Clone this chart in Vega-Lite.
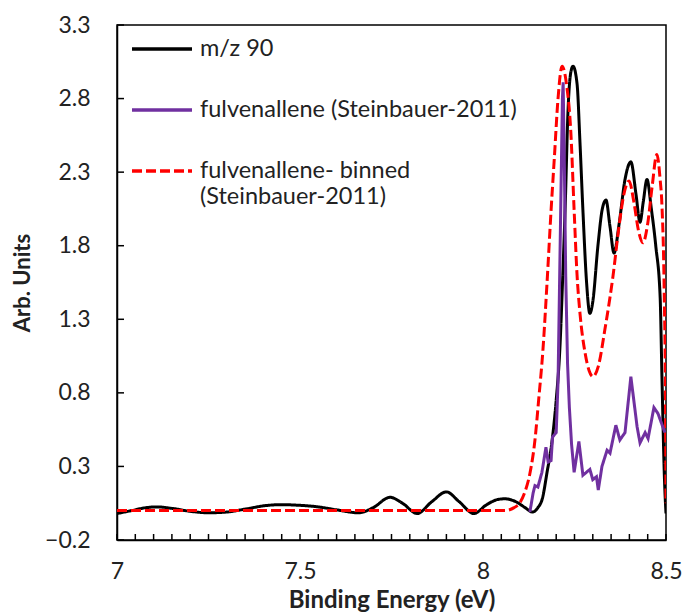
{
  "$schema": "https://vega.github.io/schema/vega-lite/v6.json",
  "width": 549,
  "height": 515,
  "autosize": {"type": "none"},
  "padding": {"left": 117, "top": 25, "right": 17, "bottom": 73},
  "background": "white",
  "config": {
    "font": "Lato",
    "view": {"stroke": "black", "strokeWidth": 1.5},
    "axis": {
      "domainColor": "black", "domainWidth": 1.5,
      "labelColor": "#222", "labelFont": "Lato", "labelFontSize": 23,
      "titleFont": "Lato", "titleFontWeight": "bold", "titleColor": "#222",
      "grid": false
    }
  },
  "datasets": {
    "curves": [
      {"s": "m/z 90", "E": 7.0, "v": -0.02},
      {"s": "m/z 90", "E": 7.04, "v": 0.0},
      {"s": "m/z 90", "E": 7.08, "v": 0.02},
      {"s": "m/z 90", "E": 7.11, "v": 0.025},
      {"s": "m/z 90", "E": 7.15, "v": 0.015},
      {"s": "m/z 90", "E": 7.2, "v": -0.005},
      {"s": "m/z 90", "E": 7.25, "v": -0.015},
      {"s": "m/z 90", "E": 7.3, "v": -0.01},
      {"s": "m/z 90", "E": 7.35, "v": 0.01},
      {"s": "m/z 90", "E": 7.41, "v": 0.035},
      {"s": "m/z 90", "E": 7.45, "v": 0.04},
      {"s": "m/z 90", "E": 7.49, "v": 0.037},
      {"s": "m/z 90", "E": 7.55, "v": 0.025},
      {"s": "m/z 90", "E": 7.6, "v": 0.005},
      {"s": "m/z 90", "E": 7.66, "v": -0.015},
      {"s": "m/z 90", "E": 7.7, "v": 0.02},
      {"s": "m/z 90", "E": 7.746, "v": 0.09},
      {"s": "m/z 90", "E": 7.78, "v": 0.05},
      {"s": "m/z 90", "E": 7.82, "v": -0.02},
      {"s": "m/z 90", "E": 7.86, "v": 0.06},
      {"s": "m/z 90", "E": 7.9, "v": 0.127},
      {"s": "m/z 90", "E": 7.935, "v": 0.06},
      {"s": "m/z 90", "E": 7.975, "v": -0.02},
      {"s": "m/z 90", "E": 8.01, "v": 0.04},
      {"s": "m/z 90", "E": 8.04, "v": 0.075},
      {"s": "m/z 90", "E": 8.06, "v": 0.08},
      {"s": "m/z 90", "E": 8.09, "v": 0.06},
      {"s": "m/z 90", "E": 8.115, "v": 0.02},
      {"s": "m/z 90", "E": 8.135, "v": -0.01},
      {"s": "m/z 90", "E": 8.15, "v": 0.02},
      {"s": "m/z 90", "E": 8.162, "v": 0.08},
      {"s": "m/z 90", "E": 8.175, "v": 0.26},
      {"s": "m/z 90", "E": 8.188, "v": 0.46},
      {"s": "m/z 90", "E": 8.2, "v": 0.75},
      {"s": "m/z 90", "E": 8.21, "v": 1.1},
      {"s": "m/z 90", "E": 8.218, "v": 1.6},
      {"s": "m/z 90", "E": 8.225, "v": 2.1},
      {"s": "m/z 90", "E": 8.232, "v": 2.7},
      {"s": "m/z 90", "E": 8.24, "v": 2.98},
      {"s": "m/z 90", "E": 8.246, "v": 3.02},
      {"s": "m/z 90", "E": 8.257, "v": 2.9},
      {"s": "m/z 90", "E": 8.265, "v": 2.5},
      {"s": "m/z 90", "E": 8.273, "v": 2.04},
      {"s": "m/z 90", "E": 8.283, "v": 1.55},
      {"s": "m/z 90", "E": 8.292, "v": 1.34},
      {"s": "m/z 90", "E": 8.3, "v": 1.42},
      {"s": "m/z 90", "E": 8.314, "v": 1.8},
      {"s": "m/z 90", "E": 8.326, "v": 2.05},
      {"s": "m/z 90", "E": 8.336, "v": 2.11},
      {"s": "m/z 90", "E": 8.347, "v": 1.93},
      {"s": "m/z 90", "E": 8.358, "v": 1.75},
      {"s": "m/z 90", "E": 8.372, "v": 1.95},
      {"s": "m/z 90", "E": 8.388, "v": 2.25},
      {"s": "m/z 90", "E": 8.404, "v": 2.37},
      {"s": "m/z 90", "E": 8.418, "v": 2.15},
      {"s": "m/z 90", "E": 8.429, "v": 1.96},
      {"s": "m/z 90", "E": 8.438, "v": 2.1},
      {"s": "m/z 90", "E": 8.448, "v": 2.25},
      {"s": "m/z 90", "E": 8.46, "v": 2.05},
      {"s": "m/z 90", "E": 8.472, "v": 1.8},
      {"s": "m/z 90", "E": 8.484, "v": 1.45},
      {"s": "m/z 90", "E": 8.489, "v": 0.9},
      {"s": "m/z 90", "E": 8.496, "v": 0.2},
      {"s": "m/z 90", "E": 8.5, "v": -0.02},

      {"s": "fulvenallene- binned (Steinbauer-2011)", "E": 7.0, "v": 0.0},
      {"s": "fulvenallene- binned (Steinbauer-2011)", "E": 7.5, "v": 0.0},
      {"s": "fulvenallene- binned (Steinbauer-2011)", "E": 8.0, "v": 0.0},
      {"s": "fulvenallene- binned (Steinbauer-2011)", "E": 8.06, "v": 0.0},
      {"s": "fulvenallene- binned (Steinbauer-2011)", "E": 8.085, "v": 0.02},
      {"s": "fulvenallene- binned (Steinbauer-2011)", "E": 8.1, "v": 0.05},
      {"s": "fulvenallene- binned (Steinbauer-2011)", "E": 8.115, "v": 0.13},
      {"s": "fulvenallene- binned (Steinbauer-2011)", "E": 8.128, "v": 0.25},
      {"s": "fulvenallene- binned (Steinbauer-2011)", "E": 8.142, "v": 0.48},
      {"s": "fulvenallene- binned (Steinbauer-2011)", "E": 8.152, "v": 0.75},
      {"s": "fulvenallene- binned (Steinbauer-2011)", "E": 8.164, "v": 1.1},
      {"s": "fulvenallene- binned (Steinbauer-2011)", "E": 8.175, "v": 1.55},
      {"s": "fulvenallene- binned (Steinbauer-2011)", "E": 8.186, "v": 2.04},
      {"s": "fulvenallene- binned (Steinbauer-2011)", "E": 8.195, "v": 2.4},
      {"s": "fulvenallene- binned (Steinbauer-2011)", "E": 8.205, "v": 2.8},
      {"s": "fulvenallene- binned (Steinbauer-2011)", "E": 8.216, "v": 3.02},
      {"s": "fulvenallene- binned (Steinbauer-2011)", "E": 8.228, "v": 2.9},
      {"s": "fulvenallene- binned (Steinbauer-2011)", "E": 8.24, "v": 2.57},
      {"s": "fulvenallene- binned (Steinbauer-2011)", "E": 8.249, "v": 2.04},
      {"s": "fulvenallene- binned (Steinbauer-2011)", "E": 8.257, "v": 1.6},
      {"s": "fulvenallene- binned (Steinbauer-2011)", "E": 8.265, "v": 1.34},
      {"s": "fulvenallene- binned (Steinbauer-2011)", "E": 8.279, "v": 1.07},
      {"s": "fulvenallene- binned (Steinbauer-2011)", "E": 8.29, "v": 0.95},
      {"s": "fulvenallene- binned (Steinbauer-2011)", "E": 8.3, "v": 0.91},
      {"s": "fulvenallene- binned (Steinbauer-2011)", "E": 8.315, "v": 0.98},
      {"s": "fulvenallene- binned (Steinbauer-2011)", "E": 8.333, "v": 1.23},
      {"s": "fulvenallene- binned (Steinbauer-2011)", "E": 8.347, "v": 1.45},
      {"s": "fulvenallene- binned (Steinbauer-2011)", "E": 8.355, "v": 1.59},
      {"s": "fulvenallene- binned (Steinbauer-2011)", "E": 8.37, "v": 1.9},
      {"s": "fulvenallene- binned (Steinbauer-2011)", "E": 8.385, "v": 2.15},
      {"s": "fulvenallene- binned (Steinbauer-2011)", "E": 8.399, "v": 2.24},
      {"s": "fulvenallene- binned (Steinbauer-2011)", "E": 8.412, "v": 2.1},
      {"s": "fulvenallene- binned (Steinbauer-2011)", "E": 8.425, "v": 1.9},
      {"s": "fulvenallene- binned (Steinbauer-2011)", "E": 8.437, "v": 1.82},
      {"s": "fulvenallene- binned (Steinbauer-2011)", "E": 8.45, "v": 1.95},
      {"s": "fulvenallene- binned (Steinbauer-2011)", "E": 8.462, "v": 2.2},
      {"s": "fulvenallene- binned (Steinbauer-2011)", "E": 8.475, "v": 2.42},
      {"s": "fulvenallene- binned (Steinbauer-2011)", "E": 8.484, "v": 2.25},
      {"s": "fulvenallene- binned (Steinbauer-2011)", "E": 8.489, "v": 2.07},
      {"s": "fulvenallene- binned (Steinbauer-2011)", "E": 8.495, "v": 1.5},
      {"s": "fulvenallene- binned (Steinbauer-2011)", "E": 8.499, "v": 0.6},
      {"s": "fulvenallene- binned (Steinbauer-2011)", "E": 8.5, "v": 0.05},

      {"s": "fulvenallene (Steinbauer-2011)", "E": 8.128, "v": -0.01},
      {"s": "fulvenallene (Steinbauer-2011)", "E": 8.137, "v": 0.12},
      {"s": "fulvenallene (Steinbauer-2011)", "E": 8.142, "v": 0.17},
      {"s": "fulvenallene (Steinbauer-2011)", "E": 8.15, "v": 0.16},
      {"s": "fulvenallene (Steinbauer-2011)", "E": 8.161, "v": 0.26},
      {"s": "fulvenallene (Steinbauer-2011)", "E": 8.172, "v": 0.43},
      {"s": "fulvenallene (Steinbauer-2011)", "E": 8.178, "v": 0.33},
      {"s": "fulvenallene (Steinbauer-2011)", "E": 8.186, "v": 0.34},
      {"s": "fulvenallene (Steinbauer-2011)", "E": 8.19, "v": 0.5},
      {"s": "fulvenallene (Steinbauer-2011)", "E": 8.2, "v": 0.53},
      {"s": "fulvenallene (Steinbauer-2011)", "E": 8.205, "v": 0.87},
      {"s": "fulvenallene (Steinbauer-2011)", "E": 8.212, "v": 2.0},
      {"s": "fulvenallene (Steinbauer-2011)", "E": 8.217, "v": 2.8},
      {"s": "fulvenallene (Steinbauer-2011)", "E": 8.219, "v": 2.91},
      {"s": "fulvenallene (Steinbauer-2011)", "E": 8.222, "v": 2.4},
      {"s": "fulvenallene (Steinbauer-2011)", "E": 8.226, "v": 1.6},
      {"s": "fulvenallene (Steinbauer-2011)", "E": 8.231, "v": 1.0},
      {"s": "fulvenallene (Steinbauer-2011)", "E": 8.236, "v": 0.7},
      {"s": "fulvenallene (Steinbauer-2011)", "E": 8.242, "v": 0.45},
      {"s": "fulvenallene (Steinbauer-2011)", "E": 8.249, "v": 0.26},
      {"s": "fulvenallene (Steinbauer-2011)", "E": 8.262, "v": 0.47},
      {"s": "fulvenallene (Steinbauer-2011)", "E": 8.273, "v": 0.24},
      {"s": "fulvenallene (Steinbauer-2011)", "E": 8.292, "v": 0.28},
      {"s": "fulvenallene (Steinbauer-2011)", "E": 8.3, "v": 0.21},
      {"s": "fulvenallene (Steinbauer-2011)", "E": 8.31, "v": 0.23},
      {"s": "fulvenallene (Steinbauer-2011)", "E": 8.315, "v": 0.14},
      {"s": "fulvenallene (Steinbauer-2011)", "E": 8.325, "v": 0.3},
      {"s": "fulvenallene (Steinbauer-2011)", "E": 8.339, "v": 0.41},
      {"s": "fulvenallene (Steinbauer-2011)", "E": 8.347, "v": 0.39},
      {"s": "fulvenallene (Steinbauer-2011)", "E": 8.363, "v": 0.58},
      {"s": "fulvenallene (Steinbauer-2011)", "E": 8.374, "v": 0.48},
      {"s": "fulvenallene (Steinbauer-2011)", "E": 8.388, "v": 0.53},
      {"s": "fulvenallene (Steinbauer-2011)", "E": 8.404, "v": 0.91},
      {"s": "fulvenallene (Steinbauer-2011)", "E": 8.421, "v": 0.57},
      {"s": "fulvenallene (Steinbauer-2011)", "E": 8.429, "v": 0.46},
      {"s": "fulvenallene (Steinbauer-2011)", "E": 8.443, "v": 0.53},
      {"s": "fulvenallene (Steinbauer-2011)", "E": 8.451, "v": 0.49},
      {"s": "fulvenallene (Steinbauer-2011)", "E": 8.467, "v": 0.7},
      {"s": "fulvenallene (Steinbauer-2011)", "E": 8.478, "v": 0.66},
      {"s": "fulvenallene (Steinbauer-2011)", "E": 8.497, "v": 0.53}
    ],
    "xticks": [
      {"t": 7}, {"t": 7.05}, {"t": 7.1}, {"t": 7.15}, {"t": 7.2}, {"t": 7.25}, {"t": 7.3}, {"t": 7.35}, {"t": 7.4}, {"t": 7.45},
      {"t": 7.5}, {"t": 7.55}, {"t": 7.6}, {"t": 7.65}, {"t": 7.7}, {"t": 7.75}, {"t": 7.8}, {"t": 7.85}, {"t": 7.9}, {"t": 7.95},
      {"t": 8}, {"t": 8.05}, {"t": 8.1}, {"t": 8.15}, {"t": 8.2}, {"t": 8.25}, {"t": 8.3}, {"t": 8.35}, {"t": 8.4}, {"t": 8.45}, {"t": 8.5}
    ],
    "yticks": [
      {"t": -0.2}, {"t": 0.3}, {"t": 0.8}, {"t": 1.3}, {"t": 1.8}, {"t": 2.3}, {"t": 2.8}, {"t": 3.3}
    ]
  },
  "layer": [
    {
      "data": {"name": "curves"},
      "transform": [{"filter": "datum.s == 'm/z 90'"}],
      "mark": {"type": "line", "strokeWidth": 3, "interpolate": "monotone", "clip": true},
      "encoding": {
        "x": {
          "field": "E", "type": "quantitative",
          "scale": {"domain": [7, 8.5], "nice": false, "zero": false},
          "axis": {"title": "Binding Energy (eV)", "titleFontSize": 24, "values": [7, 7.5, 8, 8.5], "format": "~g", "ticks": false, "labelOverlap": false, "labelFlush": false, "labelPadding": 20, "titlePadding": 5}
        },
        "y": {
          "field": "v", "type": "quantitative",
          "scale": {"domain": [-0.2, 3.3], "nice": false, "zero": false},
          "axis": {"title": "Arb. Units", "titleFontSize": 22, "values": [-0.2, 0.3, 0.8, 1.3, 1.8, 2.3, 2.8, 3.3], "format": ".1f", "ticks": false, "labelOverlap": false, "labelFlush": false, "labelPadding": 27, "titlePadding": 10}
        },
        "color": {
          "field": "s", "type": "nominal",
          "scale": {
            "domain": ["m/z 90", "fulvenallene (Steinbauer-2011)", "fulvenallene- binned (Steinbauer-2011)"],
            "range": ["#000000", "#7030A0", "#FF0000"]
          },
          "legend": {
            "title": null,
            "orient": "none",
            "legendX": 13,
            "legendY": -8,
            "symbolType": "stroke",
            "symbolSize": 3600,
            "symbolStrokeWidth": 3.5,
            "labelFontSize": 23.5,
            "labelFont": "Lato",
            "labelColor": "#222",
            "labelLimit": 0,
            "labelOffset": 6,
            "rowPadding": 17,
            "labelExpr": "datum.label == 'fulvenallene- binned (Steinbauer-2011)' ? ['fulvenallene- binned', '(Steinbauer-2011)'] : datum.label"
          }
        },
        "strokeDash": {
          "field": "s", "type": "nominal",
          "scale": {
            "domain": ["m/z 90", "fulvenallene (Steinbauer-2011)", "fulvenallene- binned (Steinbauer-2011)"],
            "range": [[1, 0], [1, 0], [10, 4]]
          },
          "legend": null
        }
      }
    },
    {
      "data": {"name": "curves"},
      "transform": [{"filter": "datum.s == 'fulvenallene- binned (Steinbauer-2011)'"}],
      "mark": {"type": "line", "strokeWidth": 3, "interpolate": "monotone", "clip": true},
      "encoding": {
        "x": {
          "field": "E", "type": "quantitative",
          "axis": {"title": "Binding Energy (eV)", "titleFontSize": 24, "values": [7, 7.5, 8, 8.5], "format": "~g", "ticks": false, "labelOverlap": false, "labelFlush": false, "labelPadding": 20, "titlePadding": 5}
        },
        "y": {
          "field": "v", "type": "quantitative",
          "axis": {"title": "Arb. Units", "titleFontSize": 22, "values": [-0.2, 0.3, 0.8, 1.3, 1.8, 2.3, 2.8, 3.3], "format": ".1f", "ticks": false, "labelOverlap": false, "labelFlush": false, "labelPadding": 27, "titlePadding": 10}
        },
        "color": {"field": "s", "type": "nominal"},
        "strokeDash": {"field": "s", "type": "nominal"}
      }
    },
    {
      "data": {"name": "curves"},
      "transform": [{"filter": "datum.s == 'fulvenallene (Steinbauer-2011)'"}],
      "mark": {"type": "line", "strokeWidth": 3, "clip": true},
      "encoding": {
        "x": {
          "field": "E", "type": "quantitative",
          "axis": {"title": "Binding Energy (eV)", "titleFontSize": 24, "values": [7, 7.5, 8, 8.5], "format": "~g", "ticks": false, "labelOverlap": false, "labelFlush": false, "labelPadding": 20, "titlePadding": 5}
        },
        "y": {
          "field": "v", "type": "quantitative",
          "axis": {"title": "Arb. Units", "titleFontSize": 22, "values": [-0.2, 0.3, 0.8, 1.3, 1.8, 2.3, 2.8, 3.3], "format": ".1f", "ticks": false, "labelOverlap": false, "labelFlush": false, "labelPadding": 27, "titlePadding": 10}
        },
        "color": {"field": "s", "type": "nominal"},
        "strokeDash": {"field": "s", "type": "nominal"}
      }
    },
    {
      "data": {"name": "xticks"},
      "mark": {"type": "rule", "color": "black", "strokeWidth": 1.5, "y2Offset": -6},
      "encoding": {
        "x": {
          "field": "t", "type": "quantitative",
          "axis": {"title": "Binding Energy (eV)", "titleFontSize": 24, "values": [7, 7.5, 8, 8.5], "format": "~g", "ticks": false, "labelOverlap": false, "labelFlush": false, "labelPadding": 20, "titlePadding": 5}
        },
        "y": {
          "datum": -0.2, "type": "quantitative",
          "axis": {"title": "Arb. Units", "titleFontSize": 22, "values": [-0.2, 0.3, 0.8, 1.3, 1.8, 2.3, 2.8, 3.3], "format": ".1f", "ticks": false, "labelOverlap": false, "labelFlush": false, "labelPadding": 27, "titlePadding": 10}
        },
        "y2": {"datum": -0.2}
      }
    },
    {
      "data": {"name": "yticks"},
      "mark": {"type": "rule", "color": "black", "strokeWidth": 1.5, "x2Offset": 7},
      "encoding": {
        "y": {
          "field": "t", "type": "quantitative",
          "axis": {"title": "Arb. Units", "titleFontSize": 22, "values": [-0.2, 0.3, 0.8, 1.3, 1.8, 2.3, 2.8, 3.3], "format": ".1f", "ticks": false, "labelOverlap": false, "labelFlush": false, "labelPadding": 27, "titlePadding": 10}
        },
        "x": {
          "datum": 7, "type": "quantitative",
          "axis": {"title": "Binding Energy (eV)", "titleFontSize": 24, "values": [7, 7.5, 8, 8.5], "format": "~g", "ticks": false, "labelOverlap": false, "labelFlush": false, "labelPadding": 20, "titlePadding": 5}
        },
        "x2": {"datum": 7}
      }
    }
  ]
}
